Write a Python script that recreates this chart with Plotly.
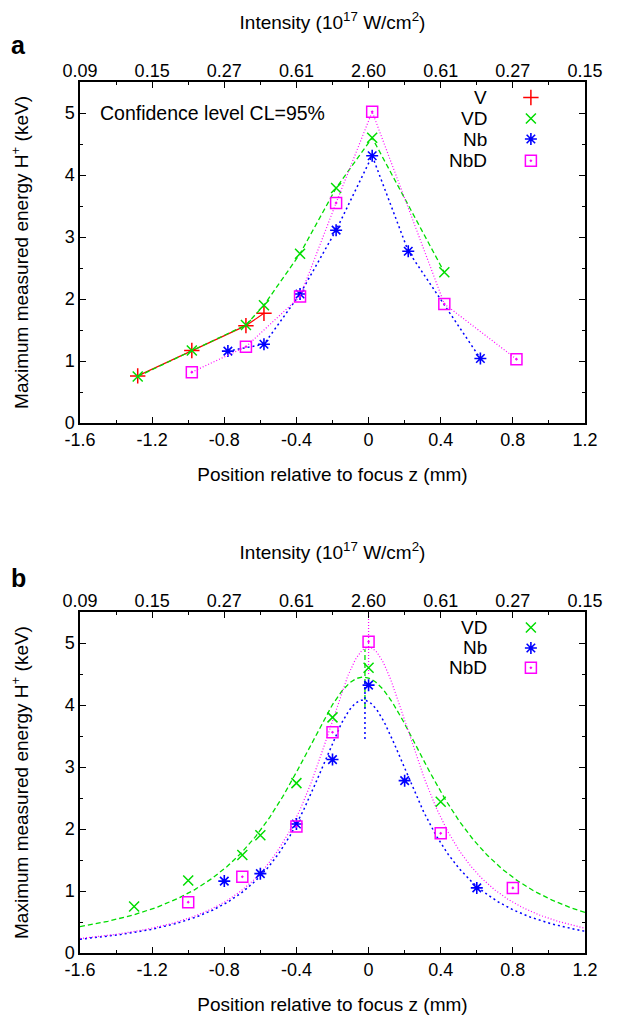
import numpy as np
import plotly.graph_objects as go

# ---------------- data ----------------
# Panel a
a_V_x = [-1.28, -0.98, -0.68, -0.58]
a_V_y = [0.76, 1.17, 1.57, 1.77]
a_VD_x = [-1.28, -0.98, -0.68, -0.58, -0.38, -0.18, 0.02, 0.42]
a_VD_y = [0.75, 1.17, 1.58, 1.90, 2.73, 3.79, 4.60, 2.43]
a_Nb_x = [-0.78, -0.58, -0.38, -0.18, 0.02, 0.22, 0.62]
a_Nb_y = [1.16, 1.27, 2.08, 3.11, 4.31, 2.77, 1.04]
a_NbD_x = [-0.98, -0.68, -0.38, -0.18, 0.02, 0.42, 0.82]
a_NbD_y = [0.82, 1.23, 2.04, 3.55, 5.02, 1.92, 1.03]

# Panel b
b_VD_x = [-1.3, -1.0, -0.7, -0.6, -0.4, -0.2, 0.0, 0.4]
b_VD_y = [0.75, 1.17, 1.58, 1.90, 2.74, 3.80, 4.60, 2.44]
b_Nb_x = [-0.8, -0.6, -0.4, -0.2, 0.0, 0.2, 0.6]
b_Nb_y = [1.16, 1.28, 2.08, 3.12, 4.32, 2.78, 1.05]
b_NbD_x = [-1.0, -0.7, -0.4, -0.2, 0.0, 0.4, 0.8]
b_NbD_y = [0.82, 1.23, 2.04, 3.56, 5.02, 1.93, 1.05]

# Lorentzian fit parameters (amplitude, centre, half width)
fit_VD = (4.45, -0.03, 0.51)
fit_Nb = (4.08, -0.03, 0.377)
fit_NbD = (4.93, 0.0, 0.357)

# short vertical segments at the fitted focus (x, y_low, y_high)
seg_VD = (-0.02, 3.95, 4.90)
seg_Nb = (-0.02, 3.45, 4.40)
seg_NbD = (0.0, 4.50, 5.50)

# axes
x_ticks = [-1.6, -1.2, -0.8, -0.4, 0.0, 0.4, 0.8, 1.2]
x_ticklabels = ["-1.6", "-1.2", "-0.8", "-0.4", "0", "0.4", "0.8", "1.2"]
top_ticklabels = ["0.09", "0.15", "0.27", "0.61", "2.60", "0.61", "0.27", "0.15"]

# ---------------- styles ----------------
RED = "#ff0000"
GREEN = "#00dd00"
BLUE = "#0000ff"
MAG = "#ff00ff"
FONT = "Liberation Sans, Arial, sans-serif"

mk_V = dict(symbol="cross-thin-open", size=11, line=dict(color=RED, width=1.5), color=RED)
mk_VD = dict(symbol="x-thin-open", size=10, line=dict(color=GREEN, width=1.5), color=GREEN)
mk_Nb = dict(symbol="asterisk-open", size=10, line=dict(color=BLUE, width=1.6), color=BLUE)
mk_NbD = dict(symbol="square-open-dot", size=11, line=dict(color=MAG, width=1.5), color=MAG)

ln_V = dict(color=RED, width=1.2)
ln_VD = dict(color=GREEN, width=1.3, dash="5px,3px")
ln_Nb = dict(color=BLUE, width=1.5, dash="2px,3px")
ln_NbD = dict(color=MAG, width=1.2, dash="1px,2px")

fig = go.Figure()

# ---- panel a ----
fig.add_trace(go.Scatter(x=a_V_x, y=a_V_y, mode="lines+markers", line=ln_V, marker=mk_V,
                         xaxis="x", yaxis="y", showlegend=False))
fig.add_trace(go.Scatter(x=a_VD_x, y=a_VD_y, mode="lines+markers", line=ln_VD, marker=mk_VD,
                         xaxis="x", yaxis="y", showlegend=False))
fig.add_trace(go.Scatter(x=a_Nb_x, y=a_Nb_y, mode="lines+markers", line=ln_Nb, marker=mk_Nb,
                         xaxis="x", yaxis="y", showlegend=False))
fig.add_trace(go.Scatter(x=a_NbD_x, y=a_NbD_y, mode="lines+markers", line=ln_NbD, marker=mk_NbD,
                         xaxis="x", yaxis="y", showlegend=False))

# ---- panel b: fits ----
xs = np.linspace(-1.6, 1.2, 400)


def lorentz(p, x):
    a, x0, w = p
    return a / (1.0 + ((x - x0) / w) ** 2)


for p, ln, seg in [(fit_VD, ln_VD, seg_VD), (fit_Nb, ln_Nb, seg_Nb), (fit_NbD, ln_NbD, seg_NbD)]:
    fig.add_trace(go.Scatter(x=xs, y=lorentz(p, xs), mode="lines", line=ln,
                             xaxis="x3", yaxis="y2", showlegend=False, hoverinfo="skip"))
    fig.add_trace(go.Scatter(x=[seg[0], seg[0]], y=[seg[1], seg[2]], mode="lines", line=ln,
                             xaxis="x3", yaxis="y2", showlegend=False, hoverinfo="skip"))

fig.add_trace(go.Scatter(x=b_VD_x, y=b_VD_y, mode="markers", marker=mk_VD,
                         xaxis="x3", yaxis="y2", showlegend=False))
fig.add_trace(go.Scatter(x=b_Nb_x, y=b_Nb_y, mode="markers", marker=mk_Nb,
                         xaxis="x3", yaxis="y2", showlegend=False))
fig.add_trace(go.Scatter(x=b_NbD_x, y=b_NbD_y, mode="markers", marker=mk_NbD,
                         xaxis="x3", yaxis="y2", showlegend=False))

# invisible traces so that the top (intensity) axes get drawn
fig.add_trace(go.Scatter(x=x_ticks, y=[None] * len(x_ticks), mode="markers",
                         xaxis="x2", yaxis="y", showlegend=False, hoverinfo="skip"))
fig.add_trace(go.Scatter(x=x_ticks, y=[None] * len(x_ticks), mode="markers",
                         xaxis="x4", yaxis="y2", showlegend=False, hoverinfo="skip"))

# ---- custom gnuplot-style keys (text left, symbol right) ----
key_x_sym = 0.90
key_x_txt = 0.67
keys_a = [("V", mk_V, 5.25), ("VD", mk_VD, 4.91), ("Nb", mk_Nb, 4.58), ("NbD", mk_NbD, 4.23)]
keys_b = [("VD", mk_VD, 5.25), ("Nb", mk_Nb, 4.92), ("NbD", mk_NbD, 4.60)]
annotations = []
keyfont = dict(size=19, family=FONT, color="black")
for name, mk, yy in keys_a:
    fig.add_trace(go.Scatter(x=[key_x_sym], y=[yy], mode="markers", marker=mk,
                             xaxis="x", yaxis="y", showlegend=False, hoverinfo="skip"))
    annotations.append(dict(x=key_x_txt, y=yy, xref="x", yref="y", text=name, showarrow=False,
                            xanchor="right", yanchor="middle", font=keyfont))
for name, mk, yy in keys_b:
    fig.add_trace(go.Scatter(x=[key_x_sym], y=[yy], mode="markers", marker=mk,
                             xaxis="x3", yaxis="y2", showlegend=False, hoverinfo="skip"))
    annotations.append(dict(x=key_x_txt, y=yy, xref="x3", yref="y2", text=name, showarrow=False,
                            xanchor="right", yanchor="middle", font=keyfont))

annotations.append(dict(x=-1.50, y=5.0, xref="x", yref="y", text="Confidence level CL=95%",
                        showarrow=False, xanchor="left", yanchor="middle",
                        font=dict(size=19.5, family=FONT, color="black")))
annotations.append(dict(x=-0.122, y=1.043, xref="paper", yref="paper", text="<b>a</b>",
                        showarrow=False, xanchor="center", yanchor="middle",
                        font=dict(size=25, family=FONT, color="black")))
annotations.append(dict(x=-0.122, y=0.430, xref="paper", yref="paper", text="<b>b</b>",
                        showarrow=False, xanchor="center", yanchor="middle",
                        font=dict(size=25, family=FONT, color="black")))

tickfont = dict(size=18, family=FONT, color="black")
titlefont = dict(size=19, family=FONT, color="black")

bottom_x = dict(range=[-1.6, 1.2], tickvals=x_ticks, ticktext=x_ticklabels, ticks="inside",
                ticklen=6, tickwidth=1, tickcolor="black", mirror="ticks", showline=True,
                linecolor="black", linewidth=1.5, showgrid=False, zeroline=False, automargin=False,
                minor=dict(dtick=0.2, tick0=0, ticks="inside", ticklen=3, tickcolor="black", showgrid=False),
                tickfont=tickfont, title=dict(text="Position relative to focus z (mm)", font=titlefont, standoff=18))
top_x = dict(range=[-1.6, 1.2], tickvals=x_ticks, ticktext=top_ticklabels, side="top",
             ticks="", showline=False, showgrid=False, zeroline=False, tickfont=tickfont, automargin=False,
             title=dict(text="Intensity (10<sup>17</sup> W/cm<sup>2</sup>)", font=titlefont, standoff=26))
left_y = dict(range=[0, 5.5], dtick=1, tick0=0, ticks="inside", ticklen=6, tickcolor="black",
              mirror="ticks", showline=True, linecolor="black", linewidth=1.5, showgrid=False,
              zeroline=False, automargin=False,
              minor=dict(dtick=0.5, ticks="inside", ticklen=3, tickcolor="black", showgrid=False),
              tickfont=tickfont,
              title=dict(text="Maximum measured energy H<sup>+</sup> (keV)", font=titlefont, standoff=32))

# the page body adds an 8px offset, so the figure is 8px smaller with margins shifted accordingly
fig.update_layout(
    width=616, height=1010,
    margin=dict(l=72, r=39, t=74, b=65),
    paper_bgcolor="white", plot_bgcolor="white",
    font=dict(family=FONT, color="black"),
    xaxis=dict(**bottom_x, anchor="y"),
    xaxis2=dict(**top_x, overlaying="x", anchor="y"),
    yaxis=dict(**left_y, domain=[0.6085, 1.0], anchor="x"),
    xaxis3=dict(**bottom_x, anchor="y2"),
    xaxis4=dict(**top_x, overlaying="x3", anchor="y2"),
    yaxis2=dict(**left_y, domain=[0.0, 0.3915], anchor="x3"),
    annotations=annotations,
    showlegend=False,
)

fig.write_html("out.html")
